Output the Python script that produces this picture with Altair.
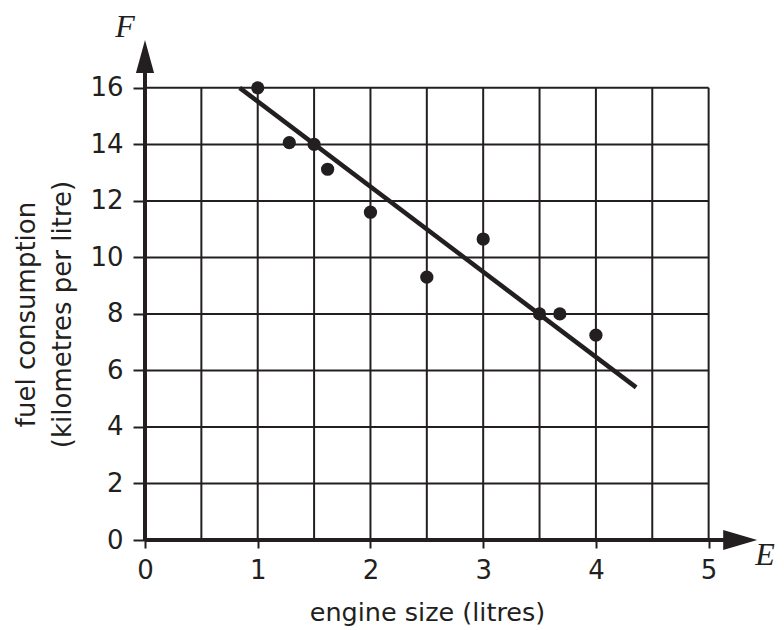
import altair as alt
import pandas as pd

# data
engine_size = [1.0, 1.28, 1.5, 1.62, 2.0, 2.5, 3.0, 3.5, 3.68, 4.0]
fuel_consumption = [16.0, 14.06, 14.0, 13.12, 11.6, 9.3, 10.65, 8.0, 8.0, 7.25]
fit_x = [0.84, 4.357]
fit_y = [16.0, 5.4]
x_ticks = [0, 1, 2, 3, 4, 5]
y_ticks = [0, 2, 4, 6, 8, 10, 12, 14, 16]
x_grid = [0.5, 1.0, 1.5, 2.0, 2.5, 3.0, 3.5, 4.0, 4.5, 5.0]
y_grid = [2, 4, 6, 8, 10, 12, 14, 16]

INK = "#231f20"
FONT = "DejaVu Sans"

xs = alt.Scale(domain=[0, 5.5], nice=False, zero=False)
ys = alt.Scale(domain=[0, 17.8], nice=False, zero=False)

pts = pd.DataFrame({"E": engine_size, "F": fuel_consumption})
fit = pd.DataFrame({"E": fit_x, "F": fit_y})
vgrid = pd.DataFrame({"x": x_grid, "y0": [0] * len(x_grid), "y1": [16] * len(x_grid)})
hgrid = pd.DataFrame({"y": y_grid, "x0": [0] * len(y_grid), "x1": [5] * len(y_grid)})

x_axis = alt.Axis(
    values=x_ticks, format="d", grid=False, domain=False, labelFlush=False,
    tickSize=8, tickWidth=2, tickColor=INK,
    labelFont=FONT, labelFontSize=26, labelColor=INK, labelPadding=9,
    title="engine size (litres)", titleFont=FONT, titleFontSize=25.5,
    titleFontWeight="normal", titleColor=INK,
    titleX=282, titleY=80, titleBaseline="alphabetic", titleAlign="center",
)
y_axis = alt.Axis(
    values=y_ticks, format="d", grid=False, domain=False, labelFlush=False,
    tickSize=12, tickWidth=2, tickColor=INK,
    labelFont=FONT, labelFontSize=26, labelColor=INK, labelPadding=10,
    title=["fuel consumption", "(kilometres per litre)"], titleFont=FONT,
    titleFontSize=26, titleFontWeight="normal", titleColor=INK,
    titleLineHeight=36, titleAngle=270,
    titleX=-111, titleY=277, titleBaseline="alphabetic", titleAlign="center",
)

base_axes = alt.Chart(pts).mark_point(opacity=0).encode(
    x=alt.X("E:Q", scale=xs, axis=x_axis),
    y=alt.Y("F:Q", scale=ys, axis=y_axis),
)

vlines = alt.Chart(vgrid).mark_rule(color=INK, strokeWidth=2).encode(
    x=alt.X("x:Q", scale=xs), y=alt.Y("y0:Q", scale=ys), y2="y1:Q"
)
hlines = alt.Chart(hgrid).mark_rule(color=INK, strokeWidth=2).encode(
    y=alt.Y("y:Q", scale=ys), x=alt.X("x0:Q", scale=xs), x2="x1:Q"
)

# axis lines with arrow heads
x_axis_line = alt.Chart().mark_rule(color=INK, strokeWidth=4).encode(
    x=alt.datum(0, scale=xs), x2=alt.datum(5.2), y=alt.datum(0, scale=ys)
)
y_axis_line = alt.Chart().mark_rule(color=INK, strokeWidth=4).encode(
    y=alt.datum(0, scale=ys), y2=alt.datum(16.8), x=alt.datum(0, scale=xs)
)
x_arrow = alt.Chart().mark_point(
    shape="M1,0L-1,-0.59L-1,0.59Z", filled=True, color=INK, opacity=1, size=1156
).encode(x=alt.datum(5.28, scale=xs), y=alt.datum(0, scale=ys))
y_arrow = alt.Chart().mark_point(
    shape="M0,-1L0.55,1L-0.55,1Z", filled=True, color=INK, opacity=1, size=1089
).encode(x=alt.datum(0, scale=xs), y=alt.datum(17.11, scale=ys))

fit_line = alt.Chart(fit).mark_line(color=INK, strokeWidth=4.5, strokeCap="butt").encode(
    x=alt.X("E:Q", scale=xs), y=alt.Y("F:Q", scale=ys)
)
dots = alt.Chart(pts).mark_circle(color=INK, opacity=1, size=175).encode(
    x=alt.X("E:Q", scale=xs), y=alt.Y("F:Q", scale=ys)
)

f_label = alt.Chart().mark_text(
    text="F", font="Liberation Serif", fontStyle="italic", fontSize=32,
    color=INK, align="center", baseline="alphabetic"
).encode(x=alt.value(-20), y=alt.value(0))
e_label = alt.Chart().mark_text(
    text="E", font="Liberation Serif", fontStyle="italic", fontSize=32,
    color=INK, align="center", baseline="alphabetic"
).encode(x=alt.value(620), y=alt.value(528))

chart = alt.layer(
    base_axes, vlines, hlines, x_axis_line, y_axis_line, x_arrow, y_arrow,
    fit_line, dots, f_label, e_label
).properties(
    width=620, height=503,
    autosize=alt.AutoSizeParams(type="none"),
    padding={"left": 137, "top": 29, "right": 11, "bottom": 88},
).configure(background="white").configure_view(strokeWidth=0, stroke="transparent")

chart.save("out.html", embed_options={"renderer": "svg", "actions": False})
